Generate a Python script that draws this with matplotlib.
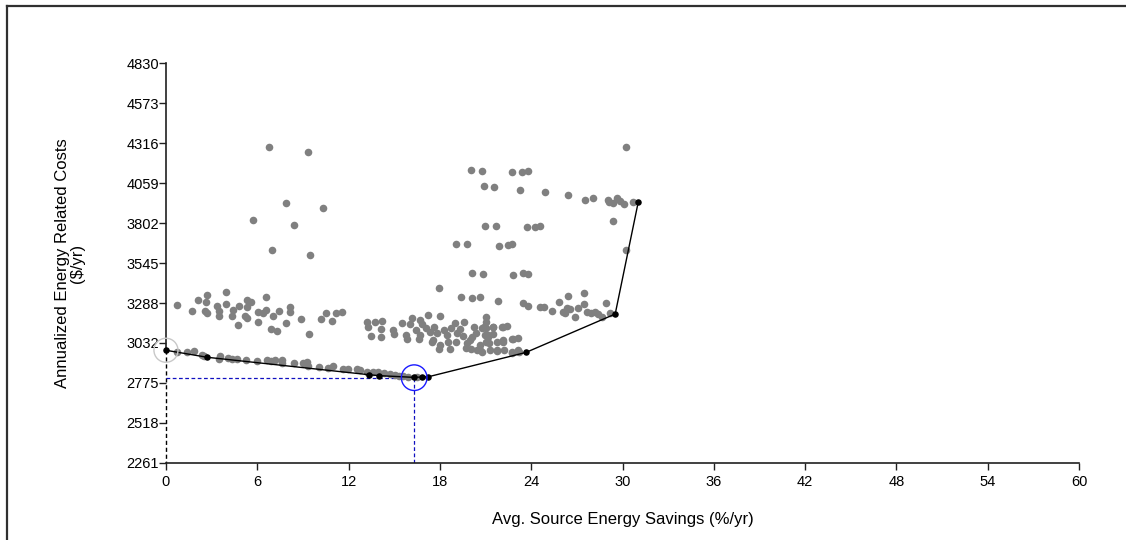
import matplotlib.pyplot as plt
from matplotlib.lines import Line2D

plt.rcParams['font.family'] = ['Liberation Sans', 'DejaVu Sans']

# tick labels
x_ticks = [0, 6, 12, 18, 24, 30, 36, 42, 48, 54, 60]
y_ticks = [2261, 2518, 2775, 3032, 3288, 3545, 3802, 4059, 4316, 4573, 4830]

# all simulated designs (gray dots): savings %/yr, cost $/yr
sim_x = [
    # upper-left cloud
    0.74, 1.73, 2.08, 2.67, 2.61, 2.56, 2.67, 3.37, 3.50, 3.50, 3.94, 3.94, 4.38, 4.32,
    4.78, 4.75, 5.34, 5.57, 5.30, 5.19, 5.34, 6.02, 6.06, 6.57, 6.57, 6.39, 7.01, 6.88,
    7.31, 7.44, 7.88, 8.15, 8.15, 8.85, 9.40, 10.20, 10.53, 10.94, 11.17, 11.54,
    # upper-left outliers
    6.79, 9.31, 7.88, 10.33, 5.74, 8.43, 6.98, 9.48,
    # lower band along the front
    0.70, 1.36, 1.84, 2.35, 2.50, 3.55, 3.46, 4.09, 4.32, 4.65, 5.26, 5.96, 6.62, 6.90,
    7.16, 7.64, 7.62, 8.41, 8.98, 9.24, 9.35, 10.07, 10.66, 10.99, 11.61, 11.98, 12.53,
    12.75, 13.19, 13.62, 13.95, 14.32, 14.72, 15.05, 15.33, 15.59, 15.92, 16.47,
    # middle cloud
    13.23, 13.29, 13.45, 13.73, 14.20, 14.11, 14.11, 14.90, 14.98, 15.48, 15.77, 15.81,
    16.03, 16.14, 16.69, 16.82, 17.25, 18.00, 16.43, 16.69, 16.60, 17.08, 17.35, 17.63,
    17.79, 17.52, 18.00, 18.27, 18.44, 18.71, 18.99, 19.10, 18.55, 18.66, 19.32, 19.49,
    19.58, 19.76, 19.69, 20.24, 20.37, 20.09, 20.41, 20.63, 20.89, 21.00, 21.04, 20.74,
    21.18, 17.46, 17.96, 19.05, 19.97, 20.02, 20.63, 21.04, 21.29, 21.73, 22.16, 22.21,
    22.83, 23.15, 21.50, 22.16, 20.96, 22.71, 23.15, 20.74, 21.04, 21.50, 22.06, 22.42,
    21.18, 21.50, 21.24, 21.73, 22.16, 22.71, 21.73, 22.71, 23.21,
    # upper-middle columns
    17.96, 19.40, 20.09, 20.63, 21.83, 20.02, 20.74, 22.76, 23.37, 23.80, 20.87, 21.55,
    23.26, 24.90, 20.96, 21.68, 23.70, 24.24, 24.59, 19.05, 19.80, 21.88, 22.49, 22.76,
    20.12, 20.85, 22.83, 23.44, 23.80,
    # right band
    23.44, 23.80, 24.57, 24.84, 25.39, 25.84, 26.06, 26.22, 26.42, 26.38, 26.54, 26.89,
    27.09, 27.48, 27.48, 27.64, 27.90, 28.19, 28.40, 28.63, 28.91, 29.17,
    # upper-right
    30.20, 26.42, 27.53, 28.04, 29.02, 29.35, 29.61, 29.83, 30.09, 30.66, 29.13, 29.35,
    30.22,
]
sim_y = [
    3276, 3239, 3310, 3341, 3297, 3239, 3222, 3271, 3239, 3207, 3357, 3282, 3244, 3207,
    3271, 3147, 3308, 3293, 3261, 3207, 3190, 3229, 3168, 3325, 3244, 3222, 3207, 3120,
    3111, 3239, 3158, 3261, 3233, 3184, 3090, 3184, 3222, 3175, 3226, 3233,
    4289, 4256, 3929, 3899, 3822, 3788, 3629, 3599,
    2976, 2976, 2982, 2955, 2948, 2948, 2931, 2935, 2931, 2931, 2923, 2918, 2923, 2914,
    2923, 2923, 2901, 2901, 2901, 2908, 2884, 2876, 2869, 2884, 2865, 2865, 2867,
    2858, 2847, 2847, 2847, 2837, 2831, 2826, 2820, 2820, 2815, 2815,
    3165, 3133, 3077, 3168, 3173, 3120, 3070, 3115, 3090, 3162, 3083, 3056,
    3152, 3190, 3179, 3154, 3212, 3205, 3115, 3083, 3056, 3126, 3104, 3136,
    3094, 3051, 3019, 3115, 3083, 3126, 3162, 3094, 3040, 2991, 3120, 3077,
    3168, 3034, 2998, 3136, 3094, 3072, 2987, 3019, 3136, 3201, 3168, 2971,
    3072, 3040, 2993, 3040, 3051, 2991, 2987, 3040, 2987, 2987, 3040, 2987,
    3057, 3062, 3133, 3133, 3083, 2976, 2987, 3126, 3126, 3136, 3136, 3141,
    3083, 3090, 3034, 3040, 3051, 3057, 2982, 2966, 2976,
    3382, 3325, 3319, 3325, 3301, 4143, 4134, 4128, 4128, 4134, 4040, 4032,
    4014, 4000, 3781, 3781, 3775, 3775, 3781, 3670, 3670, 3657, 3661, 3668,
    3481, 3475, 3468, 3481, 3475,
    3287, 3269, 3265, 3265, 3237, 3297, 3233, 3222, 3334, 3258, 3248, 3201,
    3255, 3351, 3280, 3233, 3226, 3229, 3216, 3201, 3291, 3222,
    4289, 3982, 3952, 3965, 3950, 3933, 3961, 3946, 3924, 3935, 3939, 3817,
    3629,
]

# least-cost curve (black)
front_x = [0, 2.71, 13.34, 14.01, 16.31, 16.80, 17.25, 23.65, 29.52, 31.03]
front_y = [2985, 2940, 2828, 2822, 2811, 2813, 2815, 2971, 3218, 3935]

# reference design (gray ring) and optimum (blue ring)
ref_x, ref_y = 0, 2985
opt_x, opt_y = 16.31, 2809

fig = plt.figure(figsize=(11.26, 5.40), dpi=100)
ax = fig.add_axes([0.1474, 0.1426, 0.8109, 0.7407])

ax.scatter(sim_x, sim_y, s=30, color='#808080', linewidths=0, zorder=2)
ax.plot(front_x, front_y, color='black', lw=1, zorder=3)
ax.scatter(front_x, front_y, s=22, color='black', linewidths=0, zorder=4, clip_on=False)

# dashed guide lines
ax.plot([ref_x, ref_x], [ref_y, y_ticks[0]], color='black', lw=1, ls=(0, (3, 2)), zorder=1, clip_on=False)
ax.plot([0, opt_x], [opt_y, opt_y], color='#1010c0', lw=0.9, ls=(0, (3, 2)), zorder=1)
ax.plot([opt_x, opt_x], [opt_y, y_ticks[0]], color='#1010c0', lw=0.9, ls=(0, (3, 2)), zorder=1)

# rings
ax.scatter([ref_x], [ref_y], s=300, facecolors='none', edgecolors='#c8c8c8', linewidths=1, zorder=5, clip_on=False)
ax.scatter([opt_x], [opt_y], s=340, facecolors='none', edgecolors='#1a1aff', linewidths=1, zorder=5)

ax.set_xlim(x_ticks[0], x_ticks[-1])
ax.set_ylim(y_ticks[0], y_ticks[-1])
ax.set_xticks(x_ticks)
ax.set_yticks(y_ticks)
ax.set_xticklabels([str(v) for v in x_ticks])
ax.set_yticklabels([str(v) for v in y_ticks])
ax.tick_params(axis='both', direction='out', length=5, width=1, labelsize=10.5, color='#202020')
ax.tick_params(axis='y', pad=0)
ax.tick_params(axis='x', pad=4)

for side in ['top', 'right']:
    ax.spines[side].set_visible(False)
for side in ['left', 'bottom']:
    ax.spines[side].set_linewidth(1.2)
    ax.spines[side].set_color('#202020')
# solid left spine only above the reference design; dashed guide below it
ax.spines['left'].set_bounds(ref_y, y_ticks[-1])

ax.set_xlabel('Avg. Source Energy Savings (%/yr)', fontsize=12, labelpad=16)
ax.set_ylabel('Annualized Energy Related Costs\n($/yr)', fontsize=12, labelpad=30, linespacing=1.0)

# outer frame (left and top edges)
fig.add_artist(Line2D([0.0058, 0.0058], [0, 0.989], transform=fig.transFigure, color='#303030', lw=1.6))
fig.add_artist(Line2D([0.0058, 1.0], [0.989, 0.989], transform=fig.transFigure, color='#303030', lw=1.6))

fig.savefig('out.png', dpi=100)
